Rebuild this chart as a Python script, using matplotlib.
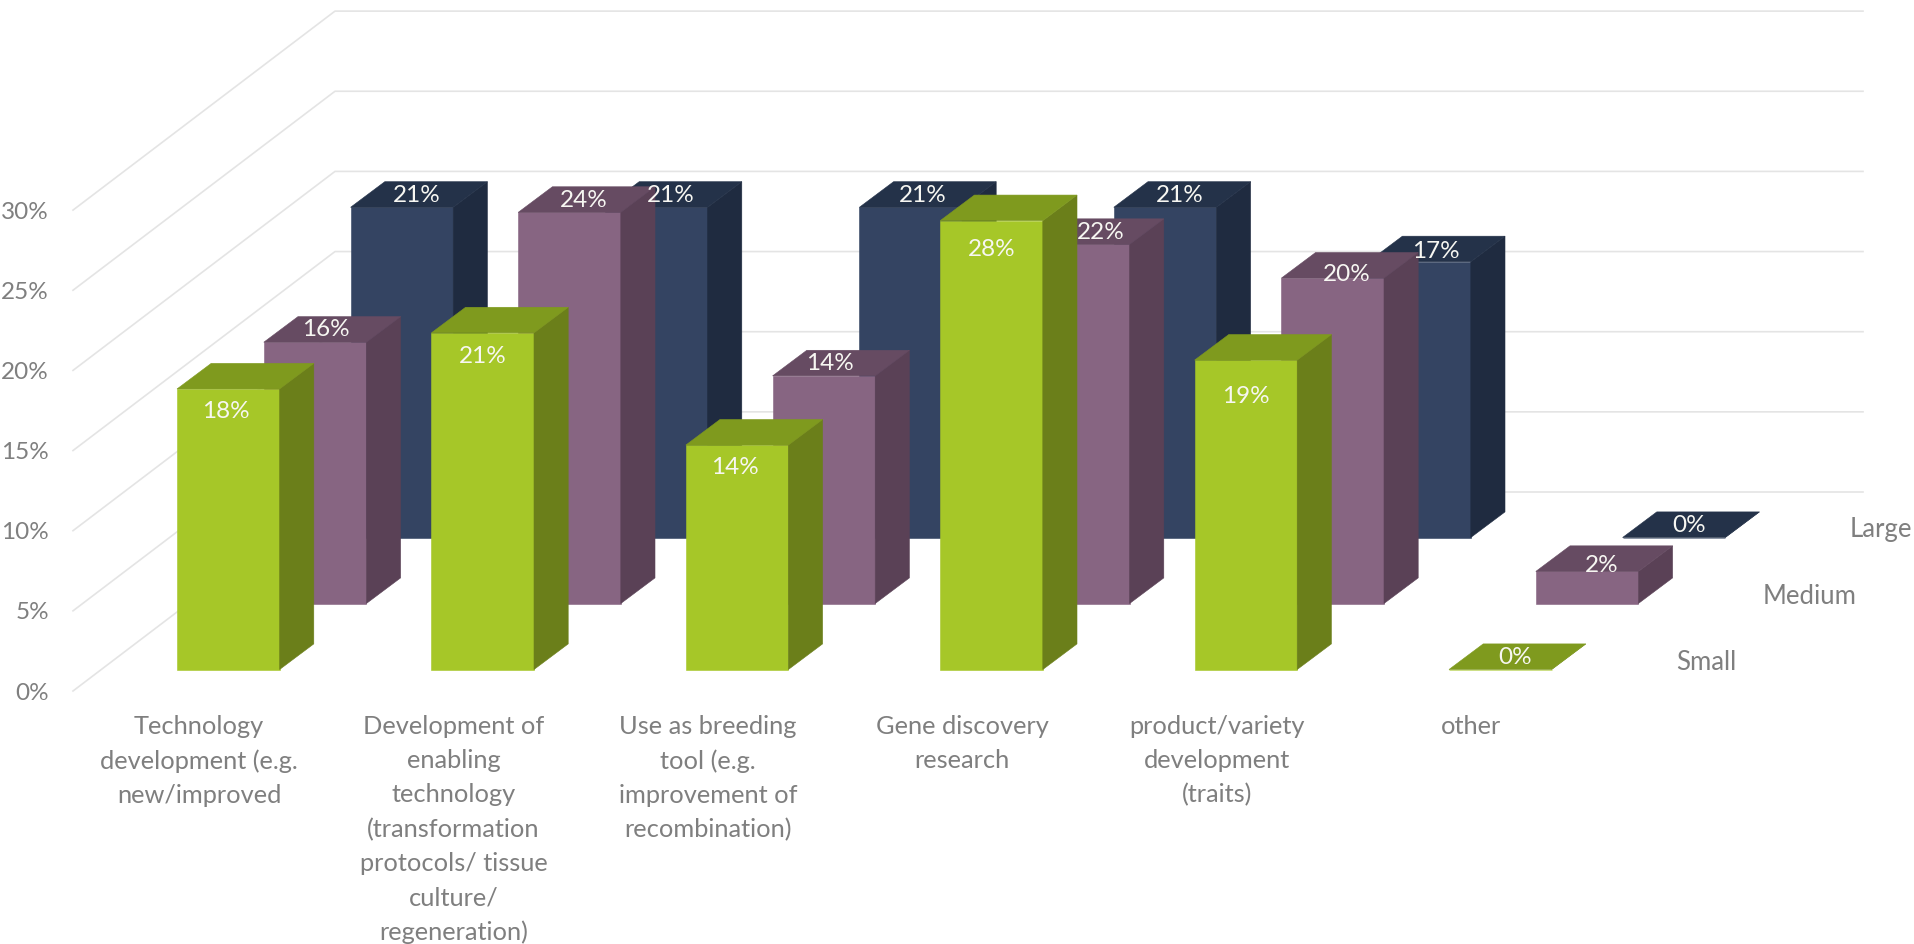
"""
Oblique 3D column chart (Small / Medium / Large by research use), drawn by hand
because mplot3d cannot give the flat cabinet look of the original.
"""
import matplotlib as mpl
mpl.use("Agg")
import matplotlib.pyplot as plt
from matplotlib.patches import Polygon

mpl.rcParams.update({"font.family": ["Lato", "DejaVu Sans"], "font.size": 17.5})

categories = [
    "Technology\ndevelopment (e.g.\nnew/improved",
    "Development of\nenabling\ntechnology\n(transformation\nprotocols/ tissue\nculture/\nregeneration)",
    "Use as breeding\ntool (e.g.\nimprovement of\nrecombination)",
    "Gene discovery\nresearch",
    "product/variety\ndevelopment\n(traits)",
    "other",
]
series_names = ["Small", "Medium", "Large"]
small_values = [17.5, 21.0, 14.0, 28.0, 19.3, 0.0]
medium_values = [16.3, 24.4, 14.2, 22.4, 20.3, 2.0]
large_values = [20.6, 20.6, 20.6, 20.6, 17.2, 0.0]
y_ticks = [0, 5, 10, 15, 20, 25, 30]

# front, side, top
COLORS = [("#A6C728", "#6B7F1A", "#7F9A1E"),
          ("#876582", "#5A4156", "#664B62"),
          ("#344462", "#1F2B40", "#243249")]
GRID = "#E4E4E4"
TEXT = "#7F7F7F"

# oblique projection, in output pixels
X0, Y0 = 177.0, 670.5
CAT_STEP = 254.4
SER_DX, SER_DY = 86.8, 66.0
UNIT = 16.03
BAR_W = 102.6
DEPTH_X, DEPTH_Y = 34.2, 25.6

# hand placed data labels in the original: (cat, ser) -> pixel shift
LABEL_NUDGE = {
    (0, 0): (-2, 1), (1, 0): (0, 2), (2, 0): (-2, 0), (3, 0): (0, 7), (4, 0): (0, 14),
    (0, 1): (-4, -1), (2, 1): (-9, 0), (3, 1): (8, 0), (4, 1): (-1, 8), (5, 1): (0, 6),
    (2, 2): (-3, 0), (4, 2): (2, 2),
}


def project(cat, ser, val):
    return X0 + CAT_STEP * cat + SER_DX * ser, Y0 - UNIT * val - SER_DY * ser


def draw_bar(ax, cat, ser, val, z):
    front, side, top = COLORS[ser]
    x, y0 = project(cat, ser, 0)
    _, y1 = project(cat, ser, val)
    r = x + BAR_W
    faces = [
        ([(x, y0), (r, y0), (r, y1), (x, y1)], front),
        ([(r, y0), (r + DEPTH_X, y0 - DEPTH_Y), (r + DEPTH_X, y1 - DEPTH_Y), (r, y1)], side),
        ([(x, y1), (r, y1), (r + DEPTH_X, y1 - DEPTH_Y), (x + DEPTH_X, y1 - DEPTH_Y)], top),
    ]
    for pts, color in faces:
        ax.add_patch(Polygon(pts, closed=True, fc=color, ec=color, lw=0.4, zorder=z))


fig = plt.figure(figsize=(19.15, 9.45), dpi=100)
ax = fig.add_axes([0, 0, 1, 1])
ax.set_xlim(0, 1915)
ax.set_ylim(945, 0)
ax.axis("off")

# --- grid: diagonal on the floor side, then flat along the back wall ---
for v in y_ticks:
    y = 692 - UNIT * v
    ax.plot([73, 335, 1863], [y, y - 199, y - 199], color=GRID, lw=1.2, zorder=1)
    ax.text(49, y + 1, f"{v}%", ha="right", va="center", color=TEXT)

# --- columns, back series first so the front ones cover them ---
all_values = [small_values, medium_values, large_values]
for ser in (2, 1, 0):
    z = 10 - 3 * ser
    for cat, val in enumerate(all_values[ser]):
        draw_bar(ax, cat, ser, val, z)
        x, y = project(cat, ser, val)
        dx, dy = LABEL_NUDGE.get((cat, ser), (0, 0))
        if ser == 0 and val > 0:
            lx, ly = x + BAR_W / 2, y + 21
        else:
            lx, ly = x + 66, y - 13
        # back labels sit under the green columns, which clip the 22% a little
        lz = 11 if ser == 0 else 8
        ax.text(lx + dx, ly + dy, f"{round(val)}%", ha="center", va="center",
                color="#F7F7F2", zorder=lz)

# --- category and series labels ---
for cat, label in enumerate(categories):
    ax.text(199 + CAT_STEP * cat, 715, label, ha="center", va="top",
            color=TEXT, fontsize=18.3, linespacing=1.585, zorder=20)
for ser, name in enumerate(series_names):
    ax.text(1676 + SER_DX * ser, 662 - SER_DY * ser, name, ha="left", va="center",
            color=TEXT, fontsize=18.5, zorder=20)

fig.savefig("out.png", dpi=100, facecolor="white")
plt.close(fig)
